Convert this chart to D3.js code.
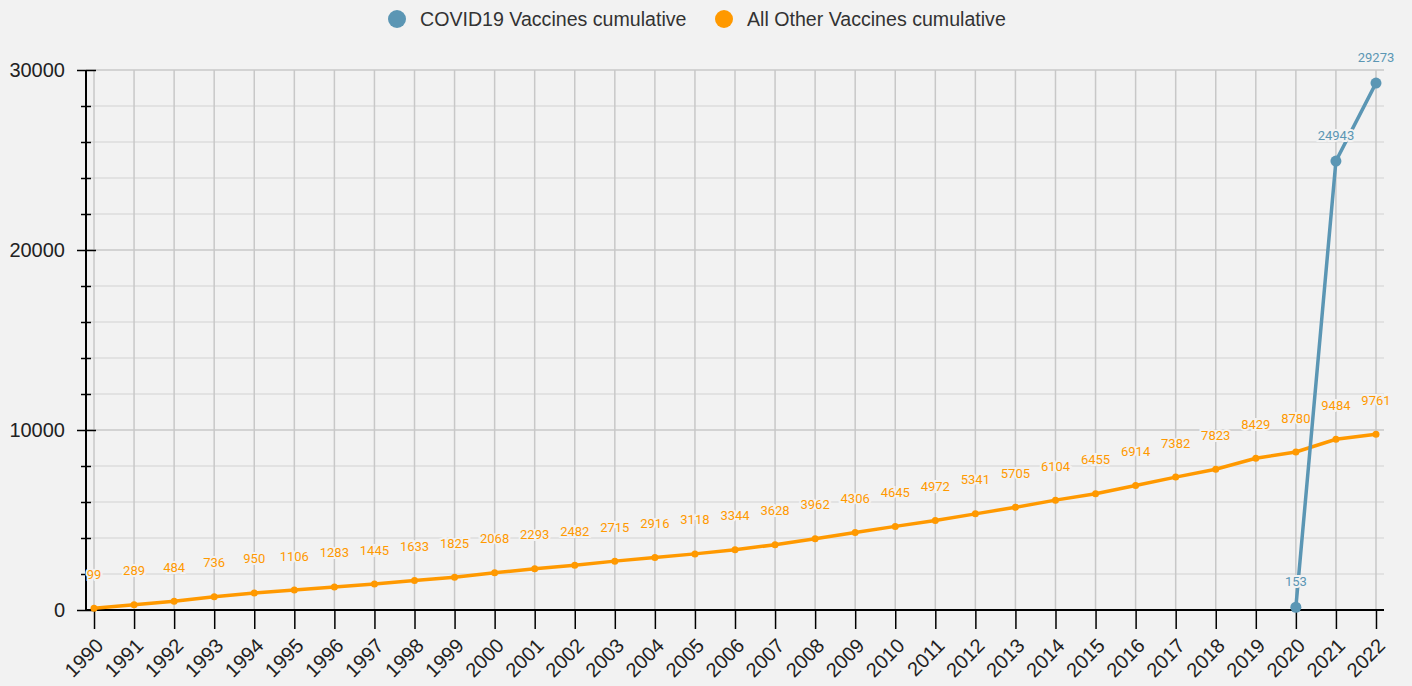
<!DOCTYPE html>
<html>
<head>
<meta charset="utf-8">
<script src="https://cdn.jsdelivr.net/npm/d3@7"></script>
<style>
  body { margin: 0; background: #f2f2f2; }
  #chart { width: 1412px; height: 686px; }
</style>
</head>
<body>
<div id="chart"></div>
<script>
var W = 1412, H = 686;
var bg = '#f2f2f2';

// data
var years = d3.range(1990, 2023);
var otherVals = [99, 289, 484, 736, 950, 1106, 1283, 1445, 1633, 1825, 2068, 2293, 2482,
  2715, 2916, 3118, 3344, 3628, 3962, 4306, 4645, 4972, 5341, 5705, 6104, 6455,
  6914, 7382, 7823, 8429, 8780, 9484, 9761];
var covidYears = [2020, 2021, 2022];
var covidVals = [153, 24943, 29273];
var seriesNames = ['COVID19 Vaccines cumulative', 'All Other Vaccines cumulative'];
var colors = ['#5b96b4', '#ff9900'];

var svg = d3.select('#chart').append('svg')
    .attr('width', W).attr('height', H)
    .style('background', bg);

var plotLeft = 86, plotRight = 1384, plotTop = 70, plotBottom = 610;

var x = d3.scalePoint().domain(years).range([plotLeft, plotRight]).padding(0.2);
var y = d3.scaleLinear().domain([0, 30000]).range([plotBottom, plotTop]);

// horizontal grid
svg.append('g').selectAll('line')
    .data(d3.range(2000, 30001, 2000))
    .enter().append('line')
    .attr('x1', plotLeft).attr('x2', plotRight)
    .attr('y1', d => y(d)).attr('y2', d => y(d))
    .style('stroke', d => d % 10000 === 0 ? '#c8c8c8' : '#dcdcdc')
    .style('stroke-width', 1.5);

// vertical grid
svg.append('g').selectAll('line')
    .data(years)
    .enter().append('line')
    .attr('x1', d => x(d)).attr('x2', d => x(d))
    .attr('y1', plotTop).attr('y2', plotBottom)
    .style('stroke', '#c8c8c8')
    .style('stroke-width', 1.5);

// y axis
var yAxis = svg.append('g')
    .attr('transform', 'translate(' + plotLeft + ',0)')
    .call(d3.axisLeft(y).tickValues(d3.range(0, 30001, 2000))
        .tickFormat(d => d % 10000 === 0 ? d : ''));
yAxis.select('.domain').attr('d', 'M0,' + plotTop + 'V' + plotBottom).style('stroke-width', 2);
yAxis.selectAll('.tick line')
    .attr('x1', d => d % 10000 === 0 ? -9 : -5)
    .attr('x2', d => d % 10000 === 0 ? 10 : 5)
    .style('stroke-width', 1.5);
yAxis.selectAll('.tick text')
    .attr('x', -21)
    .style('font-family', 'Liberation Sans, Arial, sans-serif')
    .style('font-size', '20px')
    .style('fill', '#222');

// x axis
var xAxis = svg.append('g')
    .attr('transform', 'translate(0,' + plotBottom + ')')
    .call(d3.axisBottom(x).tickSize(19));
xAxis.select('.domain').attr('d', 'M' + plotLeft + ',0H' + plotRight).style('stroke-width', 2);
xAxis.selectAll('.tick line').style('stroke-width', 1.5);
xAxis.selectAll('.tick text')
    .attr('y', 0).attr('dy', 0)
    .attr('text-anchor', 'end')
    .attr('transform', 'translate(10,37) rotate(-45)')
    .style('font-family', 'Liberation Sans, Arial, sans-serif')
    .style('font-size', '20px')
    .style('fill', '#222');

var line = d3.line().x(d => x(d[0])).y(d => y(d[1]));

var otherData = years.map((yr, i) => [yr, otherVals[i]]);
var covidData = covidYears.map((yr, i) => [yr, covidVals[i]]);

function drawSeries(data, color, r, labelDy) {
  var g = svg.append('g');
  g.append('path').datum(data)
      .attr('d', line)
      .style('fill', 'none')
      .style('stroke', color)
      .style('stroke-width', 3.5);
  g.selectAll('circle').data(data).enter().append('circle')
      .attr('cx', d => x(d[0])).attr('cy', d => y(d[1]))
      .attr('r', r).style('fill', color);
  g.selectAll('text').data(data).enter().append('text')
      .attr('x', d => x(d[0])).attr('y', d => y(d[1]) + labelDy)
      .attr('dy', '0.35em')
      .attr('text-anchor', 'middle')
      .text(d => d[1])
      .style('font-family', 'Roboto, sans-serif')
      .style('font-size', '13px')
      .style('fill', color)
      .style('stroke', bg).style('stroke-width', 4)
      .style('paint-order', 'stroke');
}

drawSeries(otherData, colors[1], 3.5, -34);
drawSeries(covidData, colors[0], 5.5, -26);

// legend
var legend = svg.append('g');
var legX = [397, 724];
seriesNames.forEach(function (name, i) {
  legend.append('circle').attr('cx', legX[i]).attr('cy', 19).attr('r', 9).style('fill', colors[i]);
  legend.append('text').attr('x', legX[i] + 23).attr('y', 19).attr('dy', '0.35em')
      .text(name)
      .style('font-family', 'Liberation Sans, Arial, sans-serif')
      .style('font-size', '19.6px')
      .style('fill', '#333');
});
</script>
</body>
</html>
